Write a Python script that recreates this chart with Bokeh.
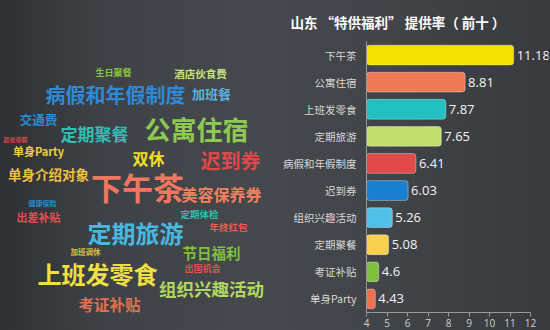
from bokeh.plotting import figure
from bokeh.models import FactorRange, ColumnDataSource, Range1d
from bokeh.layouts import row
from bokeh.core.properties import value
from bokeh.embed import file_html
from bokeh.resources import INLINE

# ---- data ----
categories = ["下午茶", "公寓住宿", "上班发零食", "定期旅游", "病假和年假制度",
              "迟到券", "组织兴趣活动", "定期聚餐", "考证补贴", "单身Party"]
rates = [11.18, 8.81, 7.87, 7.65, 6.41, 6.03, 5.26, 5.08, 4.6, 4.43]
rate_labels = ["11.18", "8.81", "7.87", "7.65", "6.41", "6.03", "5.26", "5.08", "4.6", "4.43"]
x_ticks = [4, 5, 6, 7, 8, 9, 10, 11, 12]

cloud_words = ["生日聚餐", "酒店伙食费", "病假和年假制度", "加班餐", "交通费", "定期聚餐",
               "公寓住宿", "超长带薪", "单身Party", "双休", "迟到券", "单身介绍对象",
               "下午茶", "美容保养券", "健康保险", "出差补贴", "定期体检", "年终红包",
               "定期旅游", "加班调休", "节日福利", "出国机会", "上班发零食", "组织兴趣活动",
               "考证补贴"]

# ---- layout / style (word cloud placement, in page pixels) ----
cloud_x = [113, 200, 115, 211, 38, 94, 196, 15, 38, 148, 230, 48,
           137, 221, 42, 38, 199, 228, 135, 85, 211, 202, 97, 211, 109]
cloud_y = [70, 71, 92, 91, 118, 132, 127, 138, 149, 156, 159, 172,
           185, 193, 202, 216, 213, 226, 231, 251, 252, 268, 273, 288, 303]
cloud_size = [9, 10.5, 20, 13, 12.5, 17, 26, 6, 11, 16, 20, 13.5,
              31, 16, 7, 11, 9.5, 9.5, 24, 7.5, 14.5, 9, 24, 17.5, 15.5]
cloud_color = ["#8cc43c", "#c8e080", "#2e8ad6", "#5ab4e0", "#2a8ed6", "#2fbfb6",
               "#8dc850", "#e04848", "#f0d040", "#f0e020", "#e04848", "#f0c040",
               "#f07860", "#f08060", "#2090d0", "#e05050", "#30c0b0", "#e06050",
               "#48b8e0", "#e0c040", "#80c040", "#e05050", "#f0e040", "#b0d860",
               "#e07050"]
bar_colors = ["#f4e000", "#f07a55", "#22c0c0", "#c2e070", "#e04a48",
              "#1a7fd0", "#50c0e8", "#f8d050", "#80c040", "#f07050"]

BG_GRADIENT = ("linear-gradient(90deg, #2e3034 0%, #3e4145 18%, #45484c 45%, "
               "#414448 70%, #383a3e 100%)")
CJK = "Noto Sans CJK SC"
TOP, BOTTOM = 39, 18

# ---- word cloud figure (frame aligned with bar chart frame) ----
p1 = figure(width=280, height=330, output_backend="svg", toolbar_location=None,
            x_range=Range1d(0, 280), y_range=Range1d(330 - BOTTOM, TOP),
            min_border_left=0, min_border_right=0,
            min_border_top=TOP, min_border_bottom=BOTTOM)
p1.axis.visible = False
p1.grid.visible = False
p1.outline_line_color = None
p1.background_fill_color = None
p1.border_fill_color = None
src1 = ColumnDataSource(dict(x=cloud_x, y=cloud_y, text=cloud_words,
                             size=[f"{s}px" for s in cloud_size], color=cloud_color))
p1.text(x="x", y="y", text="text", source=src1, text_font_size="size",
        text_color="color", text_align="center", text_baseline="middle",
        text_font=value(CJK), text_font_style="bold")

# ---- bar figure ----
p2 = figure(width=270, height=330, output_backend="svg", toolbar_location=None,
            y_range=FactorRange(factors=categories[::-1], range_padding=0),
            x_range=Range1d(4, 12.878),
            min_border_left=86, min_border_right=2, min_border_top=TOP,
            min_border_bottom=BOTTOM)
p2.background_fill_color = None
p2.border_fill_color = None
p2.outline_line_color = None
p2.grid.visible = False

src2 = ColumnDataSource(dict(cat=categories, v=rates, lab=rate_labels, color=bar_colors))
p2.hbar(y="cat", left=4, right="v", height=0.73, source=src2, fill_color="color",
        line_color="#ffffff", line_alpha=0.35, line_width=1, border_radius=3)
p2.text(x="v", y="cat", text="lab", source=src2, x_offset=3, text_baseline="middle",
        text_align="left", text_color="#f4f4f4", text_font_size="13px",
        text_font=value("Open Sans"))

p2.xaxis.ticker = x_ticks
p2.xaxis.bounds = (4, 12)
p2.xaxis.axis_line_color = "#9a9a9a"
p2.xaxis.major_tick_line_color = "#9a9a9a"
p2.xaxis.major_tick_in = 0
p2.xaxis.major_tick_out = 4
p2.xaxis.minor_tick_line_color = None
p2.xaxis.major_label_text_color = "#d0d0d0"
p2.xaxis.major_label_text_font_size = "10px"
p2.xaxis.major_label_text_font = "Open Sans"
p2.xaxis.major_label_standoff = 2

p2.yaxis.axis_line_color = "#9a9a9a"
p2.yaxis.major_tick_line_color = None
p2.yaxis.major_label_text_color = "#d8d8d8"
p2.yaxis.major_label_text_font_size = "10.5px"
p2.yaxis.major_label_text_font = CJK
p2.yaxis.major_label_standoff = 4

p2.title.text = "山东 “特供福利” 提供率（ 前十 ）"
p2.title.text_color = "#ffffff"
p2.title.text_font = CJK
p2.title.text_font_size = "13.5px"
p2.title.text_font_style = "bold"
p2.title.align = "left"
p2.title.offset = -76
p2.title.standoff = 19

layout = row(p1, p2, spacing=0, styles={"background": BG_GRADIENT})
open("out.html", "w").write(file_html(layout, INLINE))
